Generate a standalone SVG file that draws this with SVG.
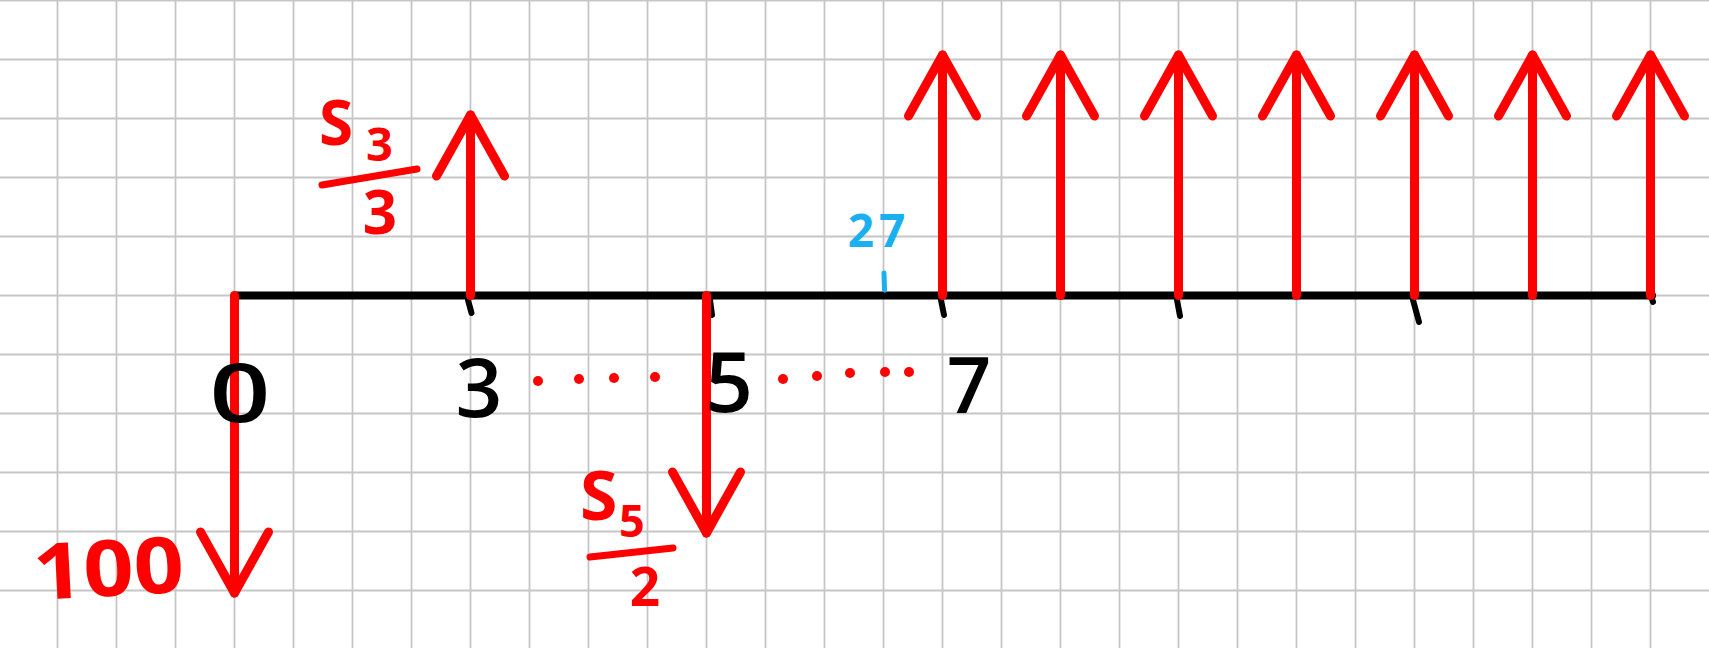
<svg xmlns="http://www.w3.org/2000/svg" width="1709" height="648" viewBox="0 0 1709 648">
<style>
.grid{stroke:#c6c6c6;stroke-width:1.8;fill:none}
.axis{stroke:#000;stroke-width:8;stroke-linecap:round;fill:none}
.tick{stroke:#000;stroke-width:6;stroke-linecap:round;fill:none}
.flow{stroke:#ff0000;stroke-width:9;stroke-linecap:round;fill:none}
.up{marker-end:url(#head)}
.bar{stroke:#ff0000;stroke-width:7;stroke-linecap:round;fill:none}
.dot{fill:#ff0000}
.num{font-family:"Open Sans","Noto Sans",sans-serif;font-weight:600;fill:#000;text-anchor:middle}
.red{font-family:"Open Sans","Noto Sans",sans-serif;font-weight:700;fill:#ff0000}
.blue{font-family:"Open Sans","Noto Sans",sans-serif;font-weight:700;fill:#1ab0f0}
</style>
<defs>
<marker id="head" markerUnits="userSpaceOnUse" orient="auto" refX="0" refY="0" markerWidth="80" markerHeight="80" overflow="visible">
<path d="M -61 -34 L 0 0 L -61 34" fill="none" stroke="#ff0000" stroke-width="9" stroke-linecap="round" stroke-linejoin="round"/>
</marker>
</defs>
<rect x="0" y="0" width="1709" height="648" fill="#ffffff"/>
<g id="grid" class="grid">
<path d="M57.5 0V648M116.5 0V648M175.5 0V648M234.5 0V648M293.5 0V648M352.5 0V648M411.5 0V648M470.5 0V648M529.5 0V648M588.5 0V648M647.5 0V648M706.5 0V648M765.5 0V648M824.5 0V648M883.5 0V648M942.5 0V648M1001.5 0V648M1060.5 0V648M1119.5 0V648M1178.5 0V648M1237.5 0V648M1296.5 0V648M1355.5 0V648M1414.5 0V648M1473.5 0V648M1532.5 0V648M1591.5 0V648M1650.5 0V648"/>
<path d="M0 0.5H1709M0 59.5H1709M0 118.5H1709M0 177.5H1709M0 236.5H1709M0 295.5H1709M0 354.5H1709M0 413.5H1709M0 472.5H1709M0 531.5H1709M0 590.5H1709"/>
</g>
<g id="timeline">
<line class="axis" x1="234.5" y1="295.5" x2="1652" y2="295.5"/>
<path class="tick" d="M468 300L471.5 313M710 300L712 315M941 300L944 315M1177 300L1180 316M1413 300L1419 322M1652 299L1653 302"/>
<line x1="884" y1="273" x2="884.5" y2="290" stroke="#1ab0f0" stroke-width="5" stroke-linecap="round"/>
</g>
<g id="connectors">
<line id="flow-0" class="flow up" x1="234.5" y1="295.5" x2="234.5" y2="593"/>
<line id="flow-3" class="flow up" x1="470.5" y1="295.5" x2="470.5" y2="115"/>
<line id="flow-5" class="flow up" x1="706.5" y1="295.5" x2="706.5" y2="533"/>
<line id="flow-7" class="flow up" x1="942.5" y1="295.5" x2="942.5" y2="55"/>
<line id="flow-9" class="flow up" x1="1060.5" y1="295.5" x2="1060.5" y2="55"/>
<line id="flow-11" class="flow up" x1="1178.5" y1="295.5" x2="1178.5" y2="55"/>
<line id="flow-13" class="flow up" x1="1296.5" y1="295.5" x2="1296.5" y2="55"/>
<line id="flow-15" class="flow up" x1="1414.5" y1="295.5" x2="1414.5" y2="55"/>
<line id="flow-17" class="flow up" x1="1532.5" y1="295.5" x2="1532.5" y2="55"/>
<line id="flow-19" class="flow up" x1="1650.5" y1="295.5" x2="1650.5" y2="55"/>
</g>
<g id="label-0"><text class="num" x="240" y="422" font-size="82" transform="translate(240 0) scale(1.3 1) translate(-240 0)">0</text></g>
<g id="label-3"><text class="num" x="479" y="417" font-size="82">3</text></g>
<g id="label-5"><text class="num" x="729" y="412" font-size="84">5</text></g>
<g id="label-7"><text class="num" x="969" y="413" font-size="78">7</text></g>
<g id="dots-3-5">
<circle class="dot" cx="538" cy="381" r="5"/><circle class="dot" cx="579" cy="379" r="5"/><circle class="dot" cx="614" cy="378" r="5"/><circle class="dot" cx="655" cy="377" r="5"/>
</g>
<g id="dots-5-7">
<circle class="dot" cx="783" cy="379" r="5"/><circle class="dot" cx="817" cy="376" r="5"/><circle class="dot" cx="850" cy="373" r="5"/><circle class="dot" cx="885" cy="372" r="5"/><circle class="dot" cx="909" cy="372" r="5"/>
</g>
<g id="label-27"><text class="blue" x="879" y="247" font-size="46" text-anchor="middle" letter-spacing="5">27</text></g>
<g id="label-100"><text class="red" x="33" y="596" font-size="78" textLength="151" lengthAdjust="spacingAndGlyphs" transform="rotate(-3 108 570)">100</text></g>
<g id="label-s3">
<text class="red" x="319" y="145" font-size="62">S</text>
<text class="red" x="366" y="161" font-size="47">3</text>
<line class="bar" x1="322" y1="185" x2="417" y2="169"/>
<text class="red" x="380" y="234" font-size="60" text-anchor="middle">3</text>
</g>
<g id="label-s5">
<text class="red" x="580" y="520" font-size="68">S</text>
<text class="red" x="619" y="537" font-size="45">5</text>
<line class="bar" x1="590" y1="557" x2="673" y2="548"/>
<text class="red" x="645" y="606" font-size="53" text-anchor="middle">2</text>
</g>
</svg>
